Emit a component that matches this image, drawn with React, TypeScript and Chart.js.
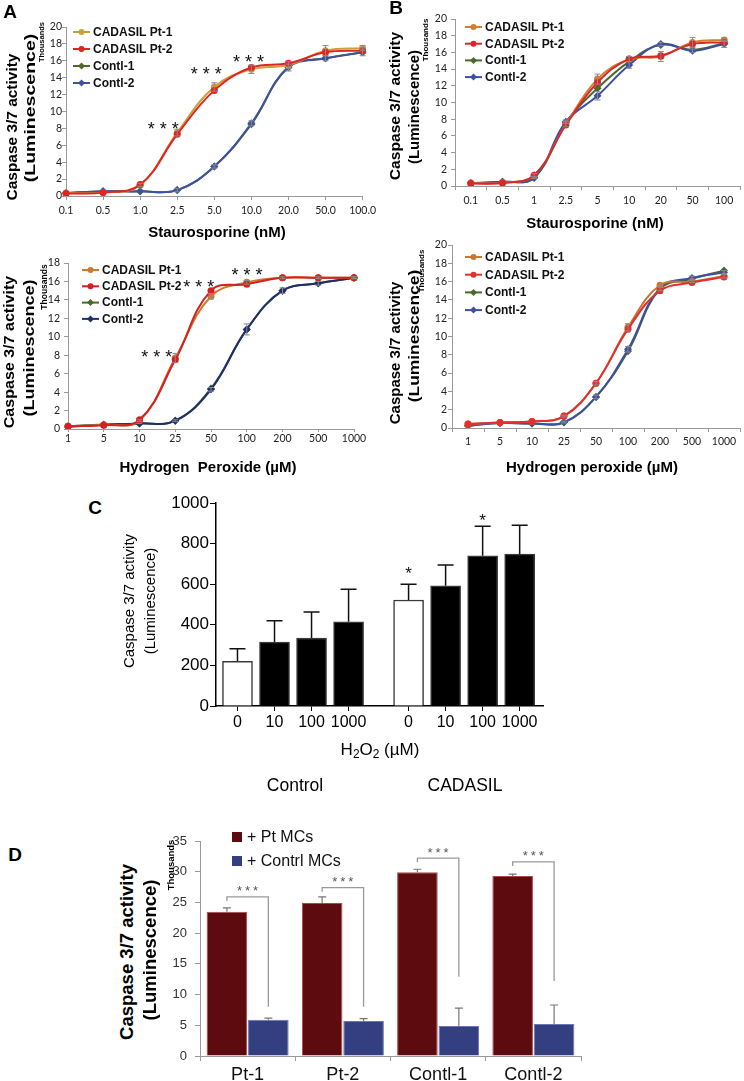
import React, { useEffect, useRef } from 'react';
import { Chart, registerables } from 'chart.js';

Chart.register(...registerables);

const SANS = '"Liberation Sans", Arial, Helvetica, sans-serif';
const TICKF = 'Lato, "Open Sans", sans-serif';
const AXIS = '#9a9a9a';

// ---------- shared labels ----------
const seriesNames = ['CADASIL Pt-1', 'CADASIL Pt-2', 'Contl-1', 'Contl-2'];
const stauroTicksA = ['0.1', '0.5', '1.0', '2.5', '5.0', '10.0', '20.0', '50.0', '100.0'];
const stauroTicksB = ['0.1', '0.5', '1', '2.5', '5', '10', '20', '50', '100'];
const h2o2Ticks = ['1', '5', '10', '25', '50', '100', '200', '500', '1000'];

// ---------- A (top): staurosporine, thousands ----------
const aTopPt1 = [0.35, 0.4, 1.3, 7.5, 12.9, 15.0, 15.5, 17.2, 17.5];
const aTopPt2 = [0.3, 0.4, 1.35, 7.3, 12.5, 15.2, 15.7, 17.0, 17.2];
const aTopC1 = [0.35, 0.55, 0.55, 0.7, 3.5, 8.5, 15.3, 16.3, 17.0];
const aTopC2 = [0.35, 0.55, 0.55, 0.7, 3.5, 8.6, 15.2, 16.3, 17.0];
const aTopPt1Err = [0, 0, 0.2, 0.4, 0.5, 0.5, 0.4, 0.6, 0.3];
const aTopC2Err = [0, 0, 0, 0.2, 0.2, 0.3, 0.4, 0.3, 0.4];
const aTopStars = [{ x: 2.62, y: 8.5 }, { x: 3.78, y: 15.0 }, { x: 4.92, y: 16.4 }];

// ---------- B (top): staurosporine, thousands ----------
const bTopPt1 = [0.35, 0.4, 1.3, 7.4, 12.8, 15.2, 15.5, 17.2, 17.5];
const bTopPt2 = [0.3, 0.35, 1.3, 7.3, 12.4, 15.2, 15.6, 17.0, 17.2];
const bTopC1 = [0.35, 0.5, 1.0, 7.6, 11.7, 14.9, 16.9, 16.3, 17.1];
const bTopC2 = [0.35, 0.5, 1.0, 7.7, 10.8, 14.5, 17.0, 16.2, 17.0];
const bTopPt1Err = [0, 0, 0.2, 0.3, 0.6, 0.3, 0.6, 0.6, 0.2];
const bTopC2Err = [0, 0, 0.1, 0.2, 0.5, 0.4, 0.2, 0.2, 0.4];

// ---------- A (bottom): hydrogen peroxide, thousands ----------
const aBotPt1 = [0.3, 0.45, 0.9, 7.7, 14.4, 15.9, 16.4, 16.4, 16.4];
const aBotPt2 = [0.3, 0.4, 1.0, 7.5, 15.0, 15.7, 16.4, 16.4, 16.4];
const aBotC1 = [0.3, 0.5, 0.6, 0.9, 4.4, 10.8, 15.0, 15.8, 16.4];
const aBotC2 = [0.25, 0.45, 0.6, 0.9, 4.3, 10.8, 15.0, 15.8, 16.4];
const aBotPt1Err = [0, 0, 0.1, 0.5, 0.3, 0.2, 0.1, 0.1, 0.1];
const aBotC2Err = [0, 0, 0, 0.1, 0.2, 0.6, 0.3, 0.2, 0.1];
const aBotStars = [{ x: 2.48, y: 8.3 }, { x: 3.66, y: 15.9 }, { x: 5.01, y: 17.2 }];

// ---------- B (bottom): hydrogen peroxide, thousands ----------
const bBotPt1 = [0.45, 0.6, 0.7, 1.3, 4.9, 11.0, 15.6, 16.0, 16.6];
const bBotPt2 = [0.45, 0.6, 0.7, 1.3, 4.9, 10.8, 15.0, 15.9, 16.5];
const bBotC1 = [0.25, 0.55, 0.5, 0.6, 3.4, 8.4, 15.2, 16.3, 17.2];
const bBotC2 = [0.25, 0.55, 0.5, 0.65, 3.4, 8.6, 15.3, 16.4, 17.0];
const bBotPt1Err = [0, 0, 0, 0.1, 0.2, 0.4, 0.2, 0.1, 0.2];
const bBotC2Err = [0, 0, 0, 0.1, 0.2, 0.3, 0.3, 0.2, 0.2];

// ---------- C: H2O2 bars ----------
const cGroups = ['Control', 'CADASIL'];
const cDoses = ['0', '10', '100', '1000'];
const cControl = [220, 315, 335, 415];
const cControlErr = [62, 105, 128, 160];
const cCadasil = [522, 592, 740, 748];
const cCadasilErr = [78, 103, 145, 142];
const cCadasilStarAt = [675, null, 936, null];

// ---------- D: co-culture bars, thousands ----------
const dCategories = ['Pt-1', 'Pt-2', 'Contl-1', 'Contl-2'];
const dSeriesNames = ['+ Pt MCs', '+ Contrl MCs'];
const dPtMCs = [23.5, 24.9, 29.9, 29.3];
const dPtErr = [0.6, 1.0, 0.5, 0.3];
const dContrlMCs = [5.9, 5.7, 4.9, 5.2];
const dContrlErr = [0.25, 0.4, 2.9, 3.1];
const dBracketTop = [25.9, 27.4, 32.2, 31.6];
const dBracketBottom = [8.0, 8.0, 12.9, 12.2];

// ---------- plugins ----------
function errorBars(o: { color: string; width: number; cap: number; both: boolean }) {
  return {
    id: 'errorBars',
    afterDatasetsDraw(chart: any) {
      const { ctx } = chart;
      const ys = chart.scales.y;
      ctx.save();
      ctx.strokeStyle = o.color;
      ctx.lineWidth = o.width;
      chart.data.datasets.forEach((ds: any, di: number) => {
        const errs = ds.errors;
        if (!errs) return;
        const meta = chart.getDatasetMeta(di);
        meta.data.forEach((el: any, i: number) => {
          const e = errs[i];
          if (!e) return;
          const raw = ds.data[i];
          const v = typeof raw === 'number' ? raw : raw.y;
          const x = el.x;
          const yt = ys.getPixelForValue(v + e);
          const yb = o.both ? ys.getPixelForValue(v - e) : ys.getPixelForValue(v);
          ctx.beginPath();
          ctx.moveTo(x, yb);
          ctx.lineTo(x, yt);
          ctx.moveTo(x - o.cap, yt);
          ctx.lineTo(x + o.cap, yt);
          if (o.both) {
            ctx.moveTo(x - o.cap, yb);
            ctx.lineTo(x + o.cap, yb);
          }
          ctx.stroke();
        });
      });
      ctx.restore();
    },
  };
}

function starsPlugin(items: { x: number; y: number }[], size: number, spacing: number, count: number, color: string) {
  return {
    id: 'stars',
    afterDatasetsDraw(chart: any) {
      const { ctx } = chart;
      const xs = chart.scales.x;
      const ys = chart.scales.y;
      ctx.save();
      ctx.fillStyle = color;
      ctx.font = `${size}px ${SANS}`;
      ctx.textAlign = 'center';
      ctx.textBaseline = 'alphabetic';
      items.forEach((it) => {
        const cx = xs.getPixelForValue(it.x);
        const cy = ys.getPixelForValue(it.y) + 0.58 * size;
        for (let k = 0; k < count; k++) {
          ctx.fillText('*', cx + (k - (count - 1) / 2) * spacing, cy);
        }
      });
      ctx.restore();
    },
  };
}

function drawMarker(ctx: any, style: string, x: number, y: number, r: number, color: string) {
  ctx.fillStyle = color;
  ctx.beginPath();
  if (style === 'rectRot') {
    ctx.moveTo(x, y - r);
    ctx.lineTo(x + r, y);
    ctx.lineTo(x, y + r);
    ctx.lineTo(x - r, y);
    ctx.closePath();
  } else {
    ctx.arc(x, y, r, 0, Math.PI * 2);
  }
  ctx.fill();
}

function lineLegend(o: { dx: number; dy: number; gap: number }) {
  return {
    id: 'lineLegend',
    afterDraw(chart: any) {
      const { ctx, chartArea } = chart;
      ctx.save();
      chart.data.datasets.forEach((ds: any, i: number) => {
        const y = chartArea.top + o.dy + i * o.gap;
        const x0 = chartArea.left + o.dx;
        ctx.strokeStyle = ds.borderColor;
        ctx.lineWidth = 2;
        ctx.beginPath();
        ctx.moveTo(x0, y);
        ctx.lineTo(x0 + 17, y);
        ctx.stroke();
        drawMarker(ctx, ds.pointStyle, x0 + 8.5, y, ds.pointStyle === 'rectRot' ? 3.5 : 3, ds.borderColor);
        ctx.fillStyle = '#111';
        ctx.font = `bold 12px ${SANS}`;
        ctx.textAlign = 'left';
        ctx.textBaseline = 'middle';
        ctx.fillText(ds.label, x0 + 20, y + 0.5);
      });
      ctx.restore();
    },
  };
}

function boxLegend(o: { dx: number; dy: number; gap: number }) {
  return {
    id: 'boxLegend',
    afterDraw(chart: any) {
      const { ctx, chartArea } = chart;
      ctx.save();
      chart.data.datasets.forEach((ds: any, i: number) => {
        const y = chartArea.top + o.dy + i * o.gap;
        const x = chartArea.left + o.dx;
        ctx.fillStyle = ds.backgroundColor;
        ctx.fillRect(x, y - 5, 10, 10);
        ctx.fillStyle = '#111';
        ctx.font = `16px ${SANS}`;
        ctx.textAlign = 'left';
        ctx.textBaseline = 'middle';
        ctx.fillText(ds.label, x + 15, y + 1);
      });
      ctx.restore();
    },
  };
}

const bracketPlugin = {
  id: 'brackets',
  afterDatasetsDraw(chart: any) {
    const { ctx } = chart;
    const ys = chart.scales.y;
    const m0 = chart.getDatasetMeta(0);
    const m1 = chart.getDatasetMeta(1);
    ctx.save();
    ctx.strokeStyle = '#9a9a9a';
    ctx.lineWidth = 1.3;
    dBracketTop.forEach((top, i) => {
      const xl = m0.data[i].x;
      const xr = m1.data[i].x;
      const yt = ys.getPixelForValue(top);
      const yb = ys.getPixelForValue(dBracketBottom[i]);
      ctx.beginPath();
      ctx.moveTo(xl, yt + 4);
      ctx.lineTo(xl, yt);
      ctx.lineTo(xr, yt);
      ctx.lineTo(xr, yb);
      ctx.stroke();
      ctx.fillStyle = '#555';
      ctx.font = `13px ${SANS}`;
      ctx.textAlign = 'center';
      ctx.textBaseline = 'alphabetic';
      const cy = yt - 9 + 0.58 * 13;
      for (let k = -1; k <= 1; k++) ctx.fillText('*', (xl + xr) / 2 + k * 8, cy);
    });
    ctx.restore();
  },
};

// ---------- configs ----------
type LinePanel = {
  labels: string[];
  series: number[][];
  errors: (number[] | null)[];
  colors: string[];
  yMax: number;
  offset: boolean;
  stars: { x: number; y: number }[];
  yWidth: number;
  yTickPad: number;
  pad: { top: number; right: number; bottom: number };
  xTickLen: number;
  xTickPad: number;
  legend: { dx: number; dy: number; gap: number };
};

function makeLineConfig(p: LinePanel): any {
  const order = [2, 1, 4, 3];
  return {
    type: 'line',
    data: {
      labels: p.labels,
      datasets: p.series.map((d, i) => ({
        label: seriesNames[i],
        data: d,
        errors: p.errors[i],
        borderColor: p.colors[i],
        backgroundColor: p.colors[i],
        pointBackgroundColor: p.colors[i],
        pointBorderColor: p.colors[i],
        pointStyle: i < 2 ? 'circle' : 'rectRot',
        pointRadius: i < 2 ? 3.5 : 4,
        pointBorderWidth: 0,
        borderWidth: 2,
        tension: 0.4,
        fill: false,
        order: order[i],
      })),
    },
    options: {
      responsive: false,
      animation: false,
      events: [],
      layout: { padding: { left: 0, top: p.pad.top, right: p.pad.right, bottom: p.pad.bottom } },
      plugins: { legend: { display: false }, tooltip: { enabled: false } },
      scales: {
        x: {
          type: 'category',
          offset: p.offset,
          grid: { drawOnChartArea: false, drawTicks: true, tickLength: p.xTickLen, color: AXIS, offset: p.offset },
          border: { color: AXIS },
          ticks: { font: { family: TICKF, size: 10.5 }, color: '#222', padding: p.xTickPad, autoSkip: false, maxRotation: 0 },
          afterFit: (s: any) => { s.height = 20; },
        },
        y: {
          min: 0,
          max: p.yMax,
          grid: { drawOnChartArea: false, drawTicks: true, tickLength: 4, color: AXIS },
          border: { color: AXIS },
          ticks: { stepSize: 2, font: { family: TICKF, size: 10.5 }, color: '#222', padding: p.yTickPad },
          afterFit: (s: any) => { s.width = p.yWidth; },
        },
      },
    },
    plugins: [
      errorBars({ color: '#8a8a8a', width: 1, cap: 3, both: true }),
      starsPlugin(p.stars, 18, 12, 3, '#111'),
      lineLegend(p.legend),
    ],
  };
}

const C_GROUP_GAP = 0.62;
const cX = (g: number, i: number) => g * (cDoses.length + C_GROUP_GAP) + i;
const cTickValues = cGroups.flatMap((_, g) => cDoses.map((__, i) => cX(g, i)));
const cTickLabels = cGroups.flatMap(() => cDoses);

function makeCConfig(): any {
  const groups = [cControl, cCadasil];
  const errs = [cControlErr, cCadasilErr];
  const starItems = cCadasilStarAt
    .map((v, i) => (v == null ? null : { x: cX(1, i), y: v }))
    .filter((s) => s !== null) as { x: number; y: number }[];
  return {
    type: 'bar',
    data: {
      datasets: groups.map((vals, g) => ({
        label: cGroups[g],
        data: vals.map((v, i) => ({ x: cX(g, i), y: v })),
        errors: errs[g],
        backgroundColor: vals.map((_, i) => (i === 0 ? '#ffffff' : '#000000')),
        borderColor: '#3a3a3a',
        borderWidth: 1.5,
        barThickness: 30,
        grouped: false,
      })),
    },
    options: {
      responsive: false,
      animation: false,
      events: [],
      layout: { padding: { left: 0, top: 23, right: 27, bottom: 10 } },
      plugins: { legend: { display: false }, tooltip: { enabled: false } },
      scales: {
        x: {
          type: 'linear',
          min: -0.58,
          max: 8.25,
          offset: false,
          grid: { drawOnChartArea: false, drawTicks: true, tickLength: 5, color: '#000', offset: false },
          border: { color: '#000', width: 1.5 },
          afterBuildTicks: (s: any) => { s.ticks = cTickValues.map((v) => ({ value: v })); },
          ticks: {
            callback: (_v: any, idx: number) => cTickLabels[idx],
            font: { family: SANS, size: 16 },
            color: '#000',
            padding: 1.5,
            autoSkip: false,
            maxRotation: 0,
          },
          afterFit: (s: any) => { s.height = 24; },
        },
        y: {
          min: 0,
          max: 1000,
          grid: { drawOnChartArea: false, drawTicks: true, tickLength: 6, color: '#000' },
          border: { color: '#000', width: 1.5 },
          ticks: {
            stepSize: 200,
            callback: (v: any) => String(v),
            font: { family: SANS, size: 17 },
            color: '#000',
            padding: 1,
          },
          afterFit: (s: any) => { s.width = 66; },
        },
      },
    },
    plugins: [errorBars({ color: '#111', width: 1.5, cap: 8, both: false }), starsPlugin(starItems, 17, 0, 1, '#111')],
  };
}

function makeDConfig(): any {
  return {
    type: 'bar',
    data: {
      labels: dCategories,
      datasets: [
        {
          label: dSeriesNames[0],
          data: dPtMCs,
          errors: dPtErr,
          backgroundColor: '#5E0B0F',
          borderColor: '#B04545',
          borderWidth: 1,
          categoryPercentage: 0.87,
          barPercentage: 0.98,
        },
        {
          label: dSeriesNames[1],
          data: dContrlMCs,
          errors: dContrlErr,
          backgroundColor: '#343F82',
          borderColor: '#6A75B5',
          borderWidth: 1,
          categoryPercentage: 0.87,
          barPercentage: 0.98,
        },
      ],
    },
    options: {
      responsive: false,
      animation: false,
      events: [],
      layout: { padding: { left: 0, top: 26, right: 19, bottom: 1 } },
      plugins: { legend: { display: false }, tooltip: { enabled: false } },
      scales: {
        x: {
          grid: { drawOnChartArea: false, drawTicks: true, tickLength: 5, color: '#9a9a9a', offset: true },
          border: { color: '#9a9a9a' },
          ticks: { font: { family: SANS, size: 18 }, color: '#111', padding: 3, autoSkip: false, maxRotation: 0 },
          afterFit: (s: any) => { s.height = 24; },
        },
        y: {
          min: 0,
          max: 35,
          grid: { drawOnChartArea: false, drawTicks: true, tickLength: 5, color: '#9a9a9a' },
          border: { color: '#9a9a9a' },
          ticks: { stepSize: 5, font: { family: SANS, size: 13 }, color: '#333', padding: 8 },
          afterFit: (s: any) => { s.width = 60; },
        },
      },
    },
    plugins: [errorBars({ color: '#777', width: 1.2, cap: 4, both: false }), bracketPlugin, boxLegend({ dx: 32, dy: -4, gap: 24 })],
  };
}

const aTopConfig = () =>
  makeLineConfig({
    labels: stauroTicksA,
    series: [aTopPt1, aTopPt2, aTopC1, aTopC2],
    errors: [aTopPt1Err, null, null, aTopC2Err],
    colors: ['#C9A13B', '#E32222', '#4B6B2B', '#3D52A1'],
    yMax: 20,
    offset: false,
    stars: aTopStars,
    yWidth: 66,
    yTickPad: 0,
    pad: { top: 27, right: 17, bottom: 24 },
    xTickLen: 4,
    xTickPad: 4,
    legend: { dx: 7, dy: 5, gap: 17 },
  });

const bTopConfig = () =>
  makeLineConfig({
    labels: stauroTicksB,
    series: [bTopPt1, bTopPt2, bTopC1, bTopC2],
    errors: [bTopPt1Err, null, null, bTopC2Err],
    colors: ['#D0802E', '#D9262A', '#4A6A2A', '#3B50A5'],
    yMax: 20,
    offset: true,
    stars: [],
    yWidth: 83,
    yTickPad: 4,
    pad: { top: 19, right: 2, bottom: 34 },
    xTickLen: 4,
    xTickPad: 4,
    legend: { dx: 10, dy: 8, gap: 16.7 },
  });

const aBotConfig = () =>
  makeLineConfig({
    labels: h2o2Ticks,
    series: [aBotPt1, aBotPt2, aBotC1, aBotC2],
    errors: [aBotPt1Err, null, null, aBotC2Err],
    colors: ['#CC7A2E', '#D42020', '#4A6B2A', '#202E6E'],
    yMax: 18,
    offset: false,
    stars: aBotStars,
    yWidth: 68,
    yTickPad: 4,
    pad: { top: 23, right: 26, bottom: 36 },
    xTickLen: 3,
    xTickPad: 0,
    legend: { dx: 14, dy: 7, gap: 16.3 },
  });

const bBotConfig = () =>
  makeLineConfig({
    labels: h2o2Ticks,
    series: [bBotPt1, bBotPt2, bBotC1, bBotC2],
    errors: [bBotPt1Err, null, null, bBotC2Err],
    colors: ['#C8782E', '#E03030', '#4A6A2A', '#3B50A5'],
    yMax: 20,
    offset: true,
    stars: [],
    yWidth: 80,
    yTickPad: 1,
    pad: { top: 10, right: 1, bottom: 32 },
    xTickLen: 4,
    xTickPad: 3,
    legend: { dx: 13, dy: 12, gap: 17.7 },
  });

// ---------- components ----------
function ChartBox({ x, y, w, h, make }: { x: number; y: number; w: number; h: number; make: () => any }) {
  const ref = useRef<HTMLCanvasElement>(null);
  useEffect(() => {
    const chart = new Chart(ref.current as HTMLCanvasElement, make());
    return () => chart.destroy();
  }, []);
  return (
    <canvas
      ref={ref}
      width={w}
      height={h}
      style={{ position: 'absolute', left: x, top: y, width: w, height: h, display: 'block' }}
    />
  );
}

function Label({
  x, y, size, bold = false, rot = false, sx = 1, color = '#000', children,
}: {
  x: number; y: number; size: number; bold?: boolean; rot?: boolean; sx?: number; color?: string; children: React.ReactNode;
}) {
  return (
    <div
      style={{
        position: 'absolute',
        left: x,
        top: y,
        transform: `translate(-50%, -50%)${rot ? ' rotate(-90deg)' : ''}${sx !== 1 ? ` scaleX(${sx})` : ''}`,
        fontFamily: SANS,
        fontSize: size,
        fontWeight: bold ? 700 : 400,
        whiteSpace: 'pre',
        lineHeight: 1,
        color,
      }}
    >
      {children}
    </div>
  );
}

const subStyle: React.CSSProperties = { fontSize: '0.7em', verticalAlign: '-0.3em', lineHeight: 0 };

export default function App() {
  return (
    <div style={{ position: 'absolute', left: 0, top: 0, width: 744, height: 1081, background: '#fff', overflow: 'hidden' }}>
      <ChartBox x={0} y={0} w={380} h={240} make={aTopConfig} />
      <ChartBox x={372} y={0} w={372} h={240} make={bTopConfig} />
      <ChartBox x={0} y={240} w={380} h={245} make={aBotConfig} />
      <ChartBox x={372} y={235} w={372} h={245} make={bBotConfig} />
      <ChartBox x={150} y={480} w={420} h={260} make={makeCConfig} />
      <ChartBox x={140} y={815} w={460} h={266} make={makeDConfig} />

      {/* panel letters */}
      <Label x={10} y={11} size={19} bold>A</Label>
      <Label x={396} y={7} size={19} bold>B</Label>
      <Label x={95} y={507} size={19} bold>C</Label>
      <Label x={15} y={854} size={19} bold>D</Label>

      {/* A top */}
      <Label x={11} y={127} size={15} bold rot sx={1.03}>Caspase 3/7 activity</Label>
      <Label x={29} y={108} size={15} bold rot sx={1.3}>(Luminescence)</Label>
      <Label x={42} y={42} size={7.5} bold rot>Thousands</Label>
      <Label x={217} y={231} size={15} bold>Staurosporine (nM)</Label>

      {/* B top */}
      <Label x={394} y={106} size={15} bold rot sx={1.04}>Caspase 3/7 activity</Label>
      <Label x={413} y={107} size={15} bold rot>(Luminescence)</Label>
      <Label x={426} y={40} size={8} bold rot>Thousands</Label>
      <Label x={595} y={222} size={15} bold>Staurosporine (nM)</Label>

      {/* A bottom */}
      <Label x={8} y={352} size={15} bold rot sx={1.07}>Caspase 3/7 activity</Label>
      <Label x={28} y={348} size={15} bold rot sx={1.2}>(Luminescence)</Label>
      <Label x={44} y={287} size={8.5} bold rot>Thousands</Label>
      <Label x={208} y={466} size={15} bold>Hydrogen  Peroxide (µM)</Label>

      {/* B bottom */}
      <Label x={394} y={353} size={15} bold rot>Caspase 3/7 activity</Label>
      <Label x={413} y={336} size={15} bold rot sx={1.16}>(Luminescence)</Label>
      <Label x={422} y={271} size={8} bold rot>Thousands</Label>
      <Label x={592} y={466} size={15} bold>Hydrogen peroxide (µM)</Label>

      {/* C */}
      <Label x={128} y={601} size={15} rot>Caspase 3/7 activity</Label>
      <Label x={149} y={601} size={15} rot>(Luminescence)</Label>
      <Label x={380} y={749} size={17}>
        <span>H<sub style={subStyle}>2</sub>O<sub style={subStyle}>2</sub> (µM)</span>
      </Label>
      <Label x={295} y={786} size={17.5}>{cGroups[0]}</Label>
      <Label x={465} y={786} size={17.5}>{cGroups[1]}</Label>

      {/* D */}
      <Label x={127} y={952} size={18.5} bold rot>Caspase 3/7 activity</Label>
      <Label x={150} y={950} size={18.5} bold rot>(Luminescence)</Label>
      <Label x={171} y={865} size={9.5} bold rot>Thousands</Label>
    </div>
  );
}
